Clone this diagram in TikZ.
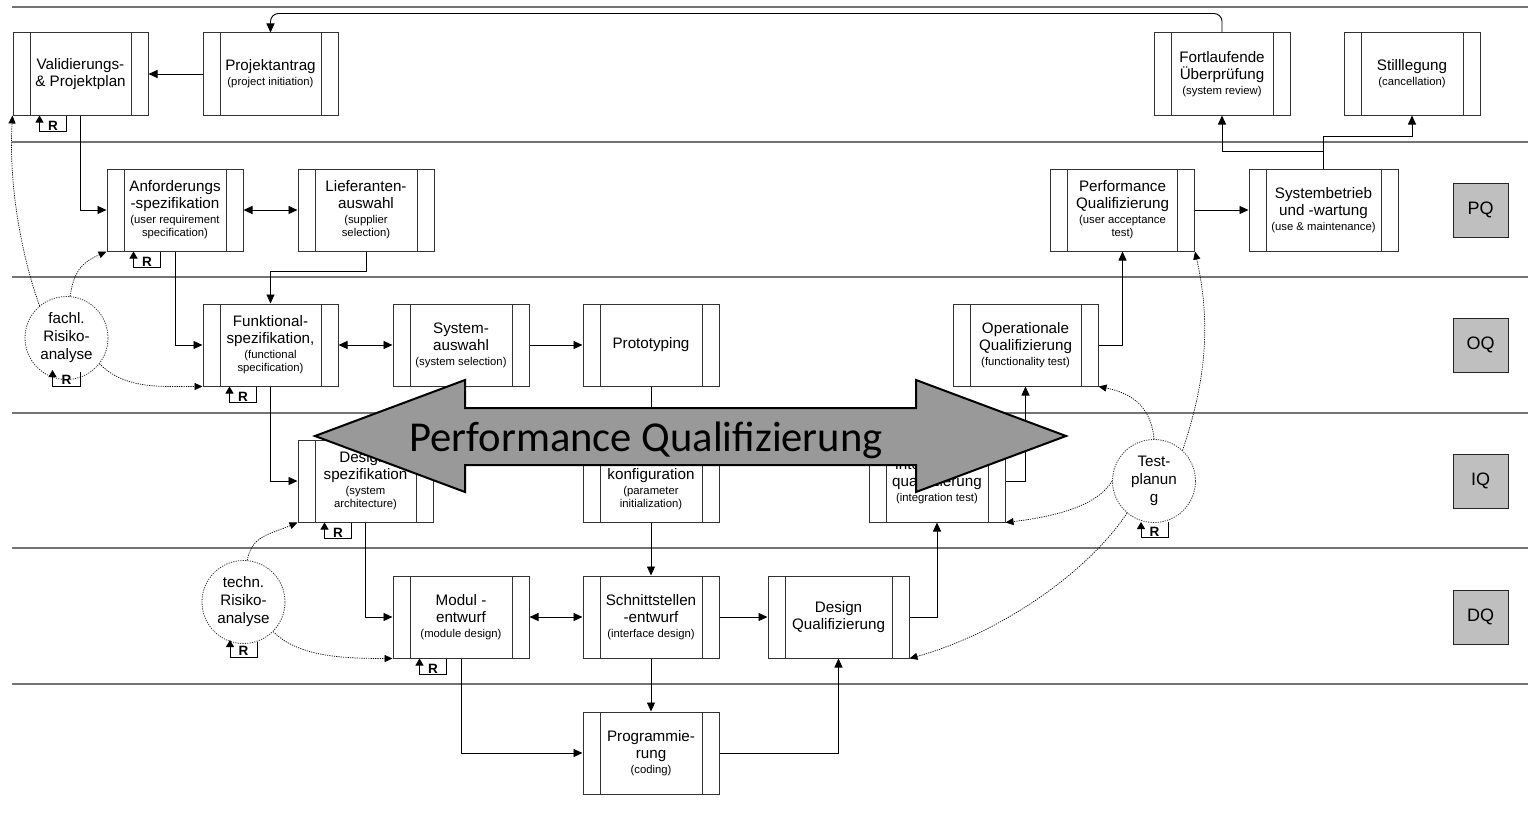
\documentclass[tikz,border=0pt]{standalone}
\usepackage{fontspec}
\setmainfont{Liberation Sans}
\newfontfamily\arrowfont{Carlito}
\usetikzlibrary{arrows.meta,calc}
\newcommand{\engl}{\fontsize{11.3}{13}\selectfont}
\newcommand{\rmark}[1]{%
    \draw[rloop] ([xshift=54pt]#1.south west) -- ++(0,16)
        -| node[rtag, pos=0.25] {R} ([xshift=27pt]#1.south west);}
\tikzset{
    lane/.style={draw=black!55, line width=1.3pt},
    vbox/.style={
        draw=black!80, line width=1pt, fill=white, align=center,
        minimum width=136pt, minimum height=82pt, inner sep=2pt,
        font=\fontsize{15.2}{17}\selectfont,
        path picture={
            \draw[black!80, line width=1pt]
                ([xshift=17pt]path picture bounding box.south west) --
                ([xshift=17pt]path picture bounding box.north west)
                ([xshift=-17pt]path picture bounding box.south east) --
                ([xshift=-17pt]path picture bounding box.north east);}},
    riskcircle/.style={
        circle, draw=black!80, line width=0.8pt, dash pattern=on 1.2pt off 1.2pt,
        minimum size=83pt, inner sep=0pt, align=center, fill=white,
        font=\fontsize{15.2}{18}\selectfont},
    qbox/.style={
        draw=black!85, line width=1pt, fill=black!25,
        minimum width=55pt, minimum height=54pt,
        font=\fontsize{18}{20}\selectfont},
    flow/.style={-{Triangle[length=9pt,width=8pt]}, line width=0.9pt},
    twoway/.style={{Triangle[length=9pt,width=8pt]}-{Triangle[length=9pt,width=8pt]}, line width=0.9pt},
    risk/.style={-{Triangle[length=8pt,width=7pt]}, line width=0.7pt,
        dash pattern=on 1.2pt off 1.1pt},
    rloop/.style={-{Triangle[length=7pt,width=8pt]}, line width=0.9pt},
    rtag/.style={anchor=south, inner sep=0.6pt, font=\bfseries\fontsize{13.5}{14}\selectfont},
}

\begin{document}
\begin{tikzpicture}[x=1pt, y=-1pt]
    \useasboundingbox (0,0) rectangle (1528,816);

    % --- Lanes --------------------------------------------------------------------
    \foreach \ly in {7,142,277,413,548,684}
        \draw[lane] (12,\ly) -- (1528,\ly);

    % --- Row 1: planning / operation ----------------------------------------------
    \node[vbox, minimum width=135pt] (val) at (80.5,74) {Validierungs-\\\& Projektplan};
    \node[vbox, minimum width=135pt] (proj) at (270.5,74) {Projektantrag\\[-2pt]\engl (project initiation)};
    \node[vbox] (fort) at (1222,74) {Fortlaufende\\Überprüfung\\[-2pt]\engl (system review)};
    \node[vbox] (still) at (1412,74) {Stilllegung\\[-2pt]\engl (cancellation)};

    % --- Row 2: PQ ----------------------------------------------------------------
    \node[vbox] (anf) at (175,210) {Anforderungs\\-spezifikation\\[-2pt]\engl (user requirement\\[-4pt]\engl specification)};
    \node[vbox] (lief) at (366,210) {Lieferanten-\\auswahl\\[-2pt]\engl (supplier\\[-4pt]\engl selection)};
    \node[vbox, minimum width=144pt] (pq) at (1122.5,210) {Performance\\Qualifizierung\\[-2pt]\engl (user acceptance\\[-4pt]\engl test)};
    \node[vbox, minimum width=149pt] (sysb) at (1323.5,210) {Systembetrieb\\und -wartung\\[-2pt]\engl (use \& maintenance)};

    % --- Row 3: OQ ----------------------------------------------------------------
    \node[vbox, minimum width=135pt] (func) at (270.5,345) {Funktional-\\spezifikation,\\[-2pt]\engl (functional\\[-4pt]\engl specification)};
    \node[vbox] (sysa) at (461,345) {System-\\auswahl\\[-2pt]\engl (system selection)};
    \node[vbox] (proto) at (651,345) {Prototyping};
    \node[vbox, minimum width=145pt] (opq) at (1025.5,345) {Operationale\\Qualifizierung\\[-2pt]\engl (functionality test)};

    % --- Row 4: IQ ----------------------------------------------------------------
    \node[vbox, minimum width=135pt] (dspez) at (365.5,481) {Design-\\spezifikation\\[-2pt]\engl (system\\[-4pt]\engl architecture)};
    \node[vbox] (param) at (651,481) {Parameter-\\konfiguration\\[-2pt]\engl (parameter\\[-4pt]\engl initialization)};
    \node[vbox] (integ) at (937,481) {Integrations-\\qualifizierung\\[-2pt]\engl (integration test)};

    % --- Row 5: DQ ----------------------------------------------------------------
    \node[vbox] (modul) at (461,617) {Modul -\\entwurf\\[-2pt]\engl (module design)};
    \node[vbox] (schn) at (651,617) {Schnittstellen\\-entwurf\\[-2pt]\engl (interface design)};
    \node[vbox, minimum width=141pt] (dq) at (838.5,617) {Design\\Qualifizierung};

    % --- Row 6: coding ------------------------------------------------------------
    \node[vbox] (prog) at (651,753) {Programmie-\\rung\\[-2pt]\engl (coding)};

    % --- Risk analysis / test planning -------------------------------------------
    \node[riskcircle] (fachl) at (66.5,338) {fachl.\\Risiko-\\analyse};
    \node[riskcircle] (techn) at (243.5,602) {techn.\\Risiko-\\analyse};
    \node[riskcircle] (test) at (1154,481) {Test-\\planun\\g};

    % --- Stage markers ------------------------------------------------------------
    \node[qbox] (mpq) at (1480.5,210) {PQ};
    \node[qbox] (moq) at (1480.5,345) {OQ};
    \node[qbox] (miq) at (1480.5,481) {IQ};
    \node[qbox] (mdq) at (1480.5,617) {DQ};

    % --- Flow arrows --------------------------------------------------------------
    \draw[flow, rounded corners=8pt] (fort.north) -- ++(0,-19) -| (proj.north);
    \draw[flow] (proj) -- (val);
    \draw[flow] (val.south) |- (anf.west);
    \draw[twoway] (anf) -- (lief);
    \draw[flow] (lief.south) -- ++(0,20) -| (func.north);
    \draw[flow] (anf.south) |- (func.west);
    \draw[twoway] (func) -- (sysa);
    \draw[flow] (sysa) -- (proto);
    \draw[flow] (proto) -- (param);
    \draw[flow] (func.south) |- (dspez.west);
    \draw[flow] (dspez.south) |- (modul.west);
    \draw[twoway] (modul) -- (schn);
    \draw[flow] (param) -- (schn);
    \draw[flow] (schn) -- (dq);
    \draw[flow] (schn) -- (prog);
    \draw[flow] (modul.south) |- (prog.west);
    \draw[flow] (prog.east) -| (dq.south);
    \draw[flow] (dq.east) -| (integ.south);
    \draw[flow] (integ.east) -| (opq.south);
    \draw[flow] (opq.east) -| (pq.south);
    \draw[flow] (pq) -- (sysb);
    \draw[flow] (sysb.north) -- ++(0,-17.5) -| (fort.south);
    \draw[flow] (sysb.north) -- ++(0,-32) -| (still.south);

    % --- Review loops -------------------------------------------------------------
    \rmark{val}
    \rmark{anf}
    \rmark{func}
    \rmark{dspez}
    \rmark{modul}
    \draw[rloop] ([xshift=14pt,yshift=-34pt]fachl.center) -- ++(0,14)
        -| node[rtag, pos=0.25] {R} ([xshift=-14pt,yshift=-32pt]fachl.center);
    \draw[rloop] ([xshift=13.5pt,yshift=-40pt]techn.center) -- ++(0,15)
        -| node[rtag, pos=0.25] {R} ([xshift=-13.5pt,yshift=-38pt]techn.center);
    \draw[rloop] ([xshift=14pt,yshift=-41pt]test.center) -- ++(0,15.5)
        -| node[rtag, pos=0.25] {R} ([xshift=-13pt,yshift=-41pt]test.center);

    % --- Risk links ---------------------------------------------------------------
    \draw[risk] (fachl.130) .. controls +(-18,-50) and +(-4,70) .. (val.south west);
    \draw[risk] (fachl.85) .. controls +(4,-28) and +(-22,10) .. (anf.south west);
    \draw[risk] (fachl.-38) .. controls +(25,25) and +(-45,0) .. (func.south west);
    \draw[risk] (techn.85) .. controls +(5,-25) and +(-28,12) .. (dspez.south west);
    \draw[risk] (techn.-45) .. controls +(25,25) and +(-50,0) .. (modul.south west);
    \draw[risk] (test.north) .. controls +(-3,-35) and +(30,6) .. (opq.south east);
    \draw[risk] (test.west) .. controls +(-15,25) and +(50,-6) .. (integ.south east);
    \draw[risk] (test.47) .. controls +(20,-60) and +(18,80) .. (pq.south east);
    \draw[risk] (test.-130) .. controls +(-40,60) and +(90,-25) .. (dq.south east);

    % --- Big double arrow ---------------------------------------------------------
    \filldraw[fill=black!40, draw=black, line width=2pt, line join=miter]
        (315,436) -- (465,380) -- (465,408) -- (916,408) -- (916,380) -- (1066,436)
        -- (916,492) -- (916,465) -- (465,465) -- (465,492) -- cycle;
    \node[font=\arrowfont\fontsize{42.6}{44}\selectfont, inner sep=0pt] (pqlabel) at (646,440)
        {Performance Qualifizierung};

\end{tikzpicture}
\end{document}
